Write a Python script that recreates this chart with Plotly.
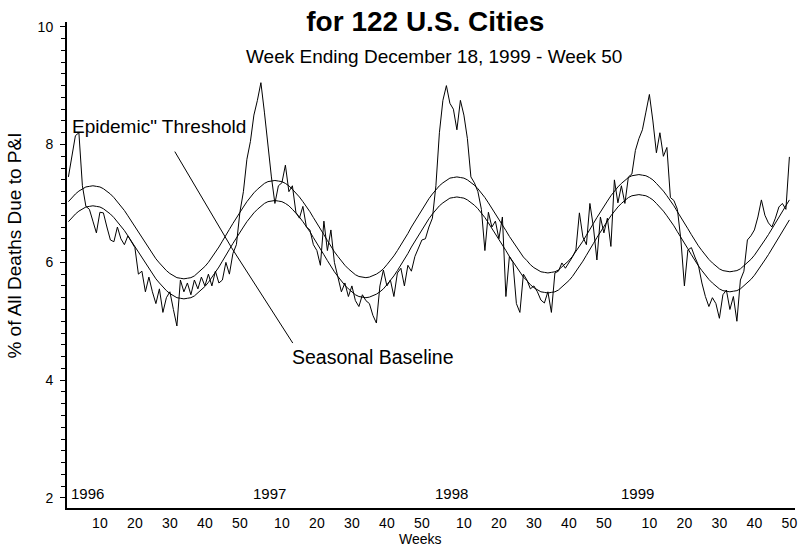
import plotly.graph_objects as go

# ---------------- data ----------------
years = [1996, 1997, 1998, 1999]
weeks_per_year = [52, 52, 53, 50]
tick_weeks = [10, 20, 30, 40, 50]

# % of all deaths due to pneumonia & influenza (observed), weekly
pi_pct = [
    7.45, 7.8, 8.15, 8.2, 7.3, 6.95, 6.9, 6.7, 6.5, 6.85,
    6.84, 6.6, 6.38, 6.35, 6.6, 6.4, 6.3, 6.45, 6.35, 6.25,
    5.8, 5.85, 5.5, 5.75, 5.5, 5.3, 5.55, 5.15, 5.4, 5.5,
    5.2, 4.92, 5.7, 5.5, 5.65, 5.45, 5.7, 5.55, 5.75, 5.6,
    5.8, 5.6, 5.85, 5.65, 5.7, 6.0, 5.8, 6.15, 6.3, 6.85,
    7.2, 7.75,
    8.05, 8.5, 8.75, 9.05, 8.55, 7.95, 7.45, 7.0, 7.3, 7.35,
    7.65, 7.2, 7.3, 6.85, 6.75, 6.95, 6.6, 6.55, 6.3, 6.2,
    5.95, 6.7, 6.2, 6.55, 6.0, 5.75, 5.5, 5.65, 5.42, 5.6,
    5.35, 5.25, 5.45, 5.35, 5.3, 5.1, 4.97, 5.6, 5.87, 5.6,
    5.7, 5.42, 5.82, 5.9, 5.6, 5.95, 5.85, 6.1, 6.25, 6.38,
    6.4, 6.6,
    6.75, 7.3, 8.2, 8.75, 9.0, 8.7, 8.6, 8.25, 8.75, 8.5,
    8.1, 7.45, 7.35, 7.2, 6.9, 6.2, 6.85, 6.6, 6.7, 6.4,
    6.77, 5.42, 6.1, 6.0, 5.3, 5.15, 5.8, 5.7, 5.55, 5.6,
    5.5, 5.36, 5.31, 5.5, 5.15, 5.82, 5.85, 5.99, 5.9, 5.99,
    6.09, 6.21, 6.84, 6.43, 6.3, 7.0, 6.6, 6.04, 6.77, 6.5,
    6.75, 6.27, 7.4,
    7.01, 7.3, 7.0, 7.45, 7.5, 7.9, 8.1, 8.25, 8.55, 8.85,
    8.4, 7.86, 8.2, 7.8, 7.95, 7.1, 7.05, 6.9, 6.38, 5.6,
    6.21, 6.25, 6.09, 5.95, 5.65, 5.42, 5.25, 5.4, 5.3, 5.05,
    5.45, 5.53, 5.2, 5.42, 5.0, 5.7, 5.85, 6.38, 6.45, 6.55,
    6.77, 7.06, 6.8, 6.67, 6.6, 6.75, 6.94, 7.0, 6.9, 7.79,
]

# Seasonal baseline, weekly
baseline = [
    6.69, 6.76, 6.82, 6.87, 6.91, 6.94, 6.95, 6.96,
    6.95, 6.94, 6.91, 6.87, 6.82, 6.76, 6.69, 6.62, 6.54, 6.45, 6.36, 6.27, 6.17,
    6.07, 5.98, 5.89, 5.80, 5.72, 5.65, 5.58, 5.52, 5.47, 5.43, 5.40, 5.39, 5.38,
    5.39, 5.40, 5.43, 5.48, 5.53, 5.59, 5.66, 5.74, 5.83, 5.92, 6.02, 6.11, 6.22,
    6.32, 6.42, 6.51, 6.60, 6.69, 6.77, 6.84, 6.90, 6.95, 7.00, 7.03, 7.04, 7.05,
    7.04, 7.03, 7.00, 6.96, 6.90, 6.84, 6.77, 6.69, 6.61, 6.52, 6.42, 6.33, 6.23,
    6.13, 6.03, 5.93, 5.84, 5.76, 5.68, 5.61, 5.55, 5.50, 5.45, 5.42, 5.41, 5.40,
    5.41, 5.43, 5.46, 5.50, 5.55, 5.62, 5.69, 5.77, 5.86, 5.95, 6.05, 6.15, 6.26,
    6.36, 6.46, 6.56, 6.65, 6.74, 6.82, 6.90, 6.96, 7.01, 7.05, 7.09, 7.10, 7.11,
    7.10, 7.09, 7.06, 7.02, 6.97, 6.91, 6.84, 6.76, 6.67, 6.58, 6.49, 6.39, 6.30,
    6.20, 6.10, 6.01, 5.92, 5.83, 5.75, 5.69, 5.62, 5.57, 5.53, 5.50, 5.49, 5.48,
    5.49, 5.50, 5.53, 5.58, 5.63, 5.69, 5.76, 5.84, 5.93, 6.02, 6.12, 6.21, 6.32,
    6.42, 6.52, 6.61, 6.70, 6.79, 6.87, 6.94, 7.00, 7.05, 7.10, 7.13, 7.14, 7.15,
    7.14, 7.13, 7.10, 7.06, 7.00, 6.94, 6.87, 6.79, 6.71, 6.62, 6.52, 6.43, 6.33,
    6.23, 6.13, 6.03, 5.94, 5.86, 5.78, 5.71, 5.65, 5.60, 5.55, 5.52, 5.51, 5.50,
    5.51, 5.52, 5.55, 5.60, 5.65, 5.71, 5.78, 5.86, 5.94, 6.04, 6.13, 6.23, 6.33,
    6.43, 6.53, 6.63, 6.72,
]

# Epidemic threshold, weekly
threshold = [
    7.03, 7.10, 7.16, 7.21, 7.25, 7.28, 7.29, 7.30,
    7.29, 7.28, 7.25, 7.21, 7.16, 7.10, 7.03, 6.96, 6.88, 6.79, 6.70, 6.61, 6.51,
    6.41, 6.32, 6.23, 6.14, 6.06, 5.99, 5.92, 5.86, 5.81, 5.77, 5.74, 5.73, 5.72,
    5.73, 5.74, 5.77, 5.82, 5.87, 5.93, 6.00, 6.08, 6.17, 6.26, 6.36, 6.45, 6.56,
    6.66, 6.76, 6.85, 6.94, 7.03, 7.11, 7.18, 7.24, 7.29, 7.34, 7.37, 7.38, 7.39,
    7.38, 7.37, 7.34, 7.30, 7.24, 7.18, 7.11, 7.03, 6.95, 6.86, 6.76, 6.67, 6.57,
    6.47, 6.37, 6.27, 6.18, 6.10, 6.02, 5.95, 5.89, 5.84, 5.79, 5.76, 5.75, 5.74,
    5.75, 5.77, 5.80, 5.84, 5.89, 5.96, 6.03, 6.11, 6.20, 6.29, 6.39, 6.49, 6.60,
    6.70, 6.80, 6.90, 6.99, 7.08, 7.16, 7.24, 7.30, 7.35, 7.39, 7.43, 7.44, 7.45,
    7.44, 7.43, 7.40, 7.36, 7.31, 7.25, 7.18, 7.10, 7.01, 6.92, 6.83, 6.73, 6.64,
    6.54, 6.44, 6.35, 6.26, 6.17, 6.09, 6.03, 5.96, 5.91, 5.87, 5.84, 5.83, 5.82,
    5.83, 5.84, 5.87, 5.92, 5.97, 6.03, 6.10, 6.18, 6.27, 6.36, 6.46, 6.55, 6.66,
    6.76, 6.86, 6.95, 7.04, 7.13, 7.21, 7.28, 7.34, 7.39, 7.44, 7.47, 7.48, 7.49,
    7.48, 7.47, 7.44, 7.40, 7.34, 7.28, 7.21, 7.13, 7.05, 6.96, 6.86, 6.77, 6.67,
    6.57, 6.47, 6.37, 6.28, 6.20, 6.12, 6.05, 5.99, 5.94, 5.89, 5.86, 5.85, 5.84,
    5.85, 5.86, 5.89, 5.94, 5.99, 6.05, 6.12, 6.20, 6.28, 6.38, 6.47, 6.57, 6.67,
    6.77, 6.87, 6.97, 7.06,
]

# ---------------- derived axis helpers ----------------
week_index = list(range(len(pi_pct)))
year_start = []
s = 0
for n in weeks_per_year:
    year_start.append(s)
    s += n

tickvals, ticktext = [], []
for st, n in zip(year_start, weeks_per_year):
    for w in tick_weeks:
        if w <= n:
            tickvals.append(st + w - 1)
            ticktext.append(str(w))

FONT = "Liberation Sans, Arial, sans-serif"

fig = go.Figure()
for series in (threshold, baseline, pi_pct):
    fig.add_trace(go.Scatter(
        x=week_index, y=series, mode="lines",
        line=dict(color="black", width=1),
        hoverinfo="skip", showlegend=False,
    ))

annotations = []
for yr, st in zip(years, year_start):
    annotations.append(dict(
        x=st + 5.5, y=2.07, xref="x", yref="y", text=str(yr),
        showarrow=False, font=dict(size=15, color="black", family=FONT),
        xanchor="center", yanchor="middle",
    ))

annotations += [
    dict(x=0.43, y=8.30, xref="x", yref="y", text='Epidemic" Threshold',
         showarrow=False, xanchor="left", yanchor="middle",
         font=dict(size=19, color="black", family=FONT)),
    dict(x=63.3, y=4.40, xref="x", yref="y", text="Seasonal Baseline",
         showarrow=False, xanchor="left", yanchor="middle",
         font=dict(size=19.5, color="black", family=FONT)),
    dict(x=0.504, y=0.929, xref="paper", yref="paper",
         text="Week Ending December 18, 1999 - Week 50",
         showarrow=False, xanchor="center", yanchor="middle",
         font=dict(size=19, color="black", family=FONT)),
    dict(x=0.486, y=-0.063, xref="paper", yref="paper", text="Weeks",
         showarrow=False, xanchor="center", yanchor="middle",
         font=dict(size=14, color="black", family=FONT)),
    dict(x=-0.0714, y=0.54, xref="paper", yref="paper",
         text="% of All Deaths Due to P&amp;I", textangle=-90,
         showarrow=False, xanchor="center", yanchor="middle",
         font=dict(size=19, color="black", family=FONT)),
]

shapes = [
    dict(type="line", xref="x", yref="y", x0=30.4, y0=7.88, x1=46.6, y1=6.25,
         line=dict(color="black", width=1)),
    dict(type="line", xref="x", yref="y", x0=46.6, y0=6.25, x1=64.1, y1=4.63,
         line=dict(color="black", width=1)),
]

fig.update_layout(
    width=798, height=548,
    margin=dict(l=67, r=3, t=22, b=40, autoexpand=False),
    paper_bgcolor="white", plot_bgcolor="white",
    font=dict(family=FONT, color="black"),
    title=dict(text="<b>for 122 U.S. Cities</b>", x=0.533, y=0.961,
               xanchor="center", yanchor="middle", automargin=False,
               font=dict(size=28, color="black", family=FONT)),
    annotations=annotations,
    shapes=shapes,
    showlegend=False,
)

fig.update_xaxes(
    range=[-0.4, 207.6], tickmode="array", tickvals=tickvals, ticktext=ticktext,
    showline=True, linecolor="black", linewidth=2, mirror=False, automargin=False,
    showgrid=False, zeroline=False, ticks="", ticklabelstandoff=1,
    tickfont=dict(size=14, color="black", family=FONT),
)
fig.update_yaxes(
    range=[1.83, 10.08], tickmode="array", tickvals=[2, 4, 6, 8, 10],
    showline=True, linecolor="black", linewidth=2, automargin=False,
    showgrid=False, zeroline=False, ticks="outside", ticklen=5, tickwidth=1,
    tickcolor="black", ticklabelstandoff=4,
    minor=dict(dtick=0.2, tick0=2, ticks="outside", ticklen=4, tickcolor="black",
               tickwidth=1, showgrid=False),
    tickfont=dict(size=14, color="black", family=FONT),
)

fig.write_html(
    "out.html",
    config={"displayModeBar": False},
    post_script="document.body.style.margin='0';document.body.style.overflow='hidden';",
)
